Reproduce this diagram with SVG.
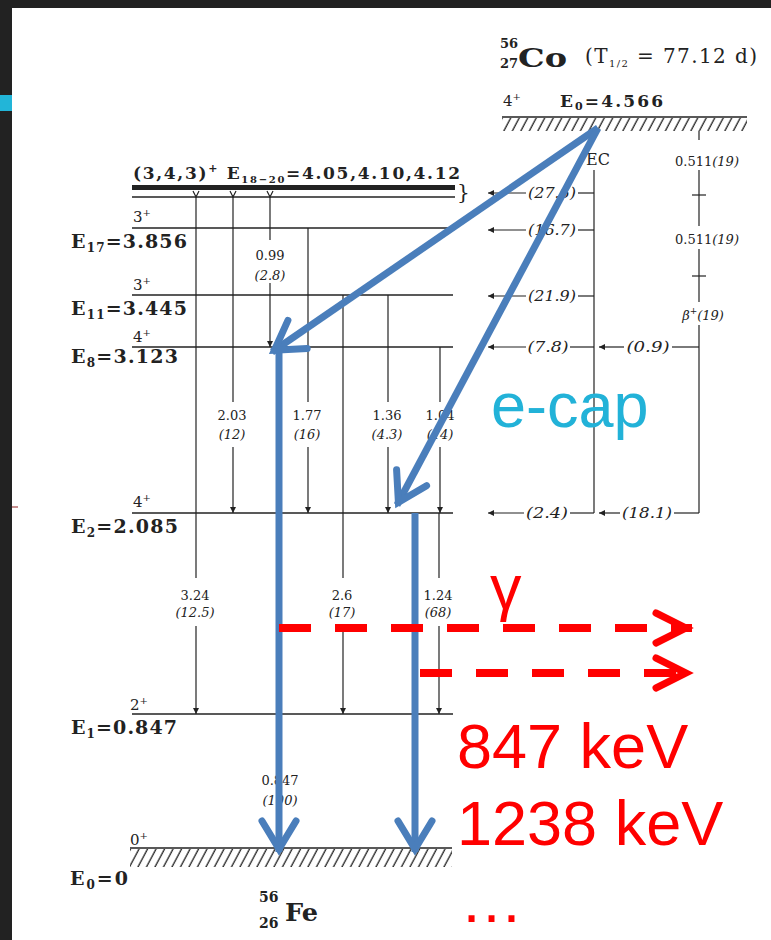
<svg xmlns="http://www.w3.org/2000/svg" width="771" height="940" viewBox="0 0 771 940">
<style>
.lv{stroke:#222;stroke-width:1.6;fill:none}
.tr{stroke:#222;stroke-width:1.2;fill:none}
.tra{stroke:#222;stroke-width:1.2;fill:none;marker-end:url(#ah)}
.lab{font-family:"DejaVu Serif","Liberation Serif",serif;font-weight:bold;fill:#222}
.spin{font-family:"DejaVu Serif","Liberation Serif",serif;font-size:15px;fill:#222}
.en{font-family:"DejaVu Serif","Liberation Serif",serif;font-size:13px;fill:#222;text-anchor:middle}
.it{font-family:"DejaVu Serif","Liberation Serif",serif;font-style:italic;font-size:13px;fill:#222;text-anchor:middle}
.fd{font-family:"DejaVu Serif","Liberation Serif",serif;font-style:italic;font-size:15px;fill:#222;text-anchor:middle}
.blue{stroke:#4a7ebb;stroke-width:7;fill:none;marker-end:url(#bh)}
.red{stroke:#ff0000;stroke-width:8;fill:none;stroke-dasharray:32 24;marker-end:url(#rh)}
.big{font-family:"Liberation Sans",Arial,sans-serif;font-size:63px}
</style>
<defs>
<marker id="ah" markerUnits="userSpaceOnUse" viewBox="0 0 8 8" refX="8" refY="4" markerWidth="7" markerHeight="6" orient="auto">
<path d="M0,0 L8,4 L0,8 z" fill="#222"/>
</marker>
<marker id="bh" markerUnits="userSpaceOnUse" viewBox="-34 -24 44 48" refX="0" refY="0" markerWidth="44" markerHeight="48" orient="auto" overflow="visible">
<path d="M-31,-17 L-3,0 L-31,17" fill="none" stroke="#4a7ebb" stroke-width="7" stroke-linecap="round" stroke-linejoin="miter"/>
</marker>
<marker id="rh" markerUnits="userSpaceOnUse" viewBox="-40 -22 50 44" refX="0" refY="0" markerWidth="50" markerHeight="44" orient="auto" overflow="visible">
<path d="M-36,-15 L-6,0 L-36,15" fill="none" stroke="#ff0000" stroke-width="7" stroke-dasharray="none" stroke-linecap="round" stroke-linejoin="miter"/>
</marker>
<pattern id="hatch" patternUnits="userSpaceOnUse" width="8.5" height="40" patternTransform="skewX(-28)">
<line x1="4" y1="0" x2="4" y2="40" stroke="#333" stroke-width="1.6"/>
</pattern>
</defs>

<rect x="0" y="0" width="771" height="940" fill="#ffffff"/>
<rect x="0" y="0" width="771" height="8" fill="#222222"/>
<rect x="0" y="0" width="12" height="940" fill="#222222"/>
<rect x="0" y="95" width="12" height="16" fill="#22b5d8"/>
<line x1="12" y1="507" x2="18" y2="507" stroke="#b06060" stroke-width="2" opacity="0.7"/>

<g id="co-title">
<text class="lab" x="500" y="48" font-size="13">56</text>
<text class="lab" x="500" y="68" font-size="13">27</text>
<text class="lab" x="518" y="67" font-size="26" textLength="49" lengthAdjust="spacingAndGlyphs">Co</text>
<text x="585" y="63" font-family="DejaVu Serif, Liberation Serif, serif" font-size="20" fill="#222" textLength="172">(T<tspan font-size="10" dy="4">1/2</tspan><tspan dy="-4"> = 77.12 d)</tspan></text>
</g>

<g id="level-co">
<line class="lv" x1="502" y1="117" x2="747" y2="117"/>
<rect x="502" y="118" width="245" height="13" fill="url(#hatch)"/>
<text class="spin" x="503" y="106">4<tspan font-size="10" dy="-6">+</tspan></text>
<text class="lab" x="560" y="107" font-size="17" textLength="103">E<tspan font-size="11" dy="3">0</tspan><tspan dy="-3">=4.566</tspan></text>
</g>

<g id="level-18-20">
<rect x="132" y="185" width="323" height="5" fill="#222"/>
<line class="lv" x1="132" y1="197" x2="455" y2="197"/>
<text class="lab" x="133" y="179" font-size="17" textLength="327">(3,4,3)<tspan font-size="11" dy="-7">+</tspan><tspan dy="7"> E</tspan><tspan font-size="10" dy="4">18−20</tspan><tspan dy="-4">=4.05,4.10,4.12</tspan></text>
<text x="457" y="199" font-family="DejaVu Serif, serif" font-size="20" fill="#222">}</text>
<path d="M193,191 L196,197 L199,191 M230,191 L233,197 L236,191 M267,191 L270,197 L273,191" stroke="#222" stroke-width="1.2" fill="none"/>
</g>

<g id="level-e17">
<line class="lv" x1="132" y1="228" x2="453" y2="228"/>
<text class="spin" x="133" y="222">3<tspan font-size="10" dy="-6">+</tspan></text>
<text class="lab" x="71" y="248" font-size="19" textLength="116">E<tspan font-size="12" dy="4">17</tspan><tspan dy="-4">=3.856</tspan></text>
</g>

<g id="level-e11">
<line class="lv" x1="132" y1="295" x2="453" y2="295"/>
<text class="spin" x="133" y="290">3<tspan font-size="10" dy="-6">+</tspan></text>
<text class="lab" x="71" y="315" font-size="19" textLength="116">E<tspan font-size="12" dy="4">11</tspan><tspan dy="-4">=3.445</tspan></text>
</g>

<g id="level-e8">
<line class="lv" x1="132" y1="347" x2="453" y2="347"/>
<text class="spin" x="133" y="342">4<tspan font-size="10" dy="-6">+</tspan></text>
<text class="lab" x="71" y="363" font-size="19" textLength="107">E<tspan font-size="12" dy="4">8</tspan><tspan dy="-4">=3.123</tspan></text>
</g>

<g id="level-e2">
<line class="lv" x1="132" y1="513" x2="453" y2="513"/>
<text class="spin" x="133" y="507">4<tspan font-size="10" dy="-6">+</tspan></text>
<text class="lab" x="71" y="533" font-size="19" textLength="107">E<tspan font-size="12" dy="4">2</tspan><tspan dy="-4">=2.085</tspan></text>
</g>

<g id="level-e1">
<line class="lv" x1="132" y1="714" x2="453" y2="714"/>
<text class="spin" x="130" y="710">2<tspan font-size="10" dy="-6">+</tspan></text>
<text class="lab" x="71" y="734" font-size="19" textLength="106">E<tspan font-size="12" dy="4">1</tspan><tspan dy="-4">=0.847</tspan></text>
</g>

<g id="level-e0">
<line class="lv" x1="130" y1="848" x2="452" y2="848"/>
<rect x="130" y="849" width="322" height="18" fill="url(#hatch)"/>
<text class="spin" x="130" y="845">0<tspan font-size="10" dy="-6">+</tspan></text>
<text class="lab" x="70" y="885" font-size="19" textLength="58">E<tspan font-size="12" dy="4">0</tspan><tspan dy="-4">=0</tspan></text>
</g>

<g id="fe-title">
<text class="lab" x="259" y="902" font-size="14">56</text>
<text class="lab" x="259" y="928" font-size="14">26</text>
<text class="lab" x="285" y="921" font-size="24" textLength="33" lengthAdjust="spacingAndGlyphs">Fe</text>
</g>

<g id="ec-branch">
<text x="598" y="165" font-family="DejaVu Serif, serif" font-size="16" fill="#222" text-anchor="middle">EC</text>
<line class="tr" x1="594" y1="170" x2="594" y2="513"/>
</g>

<g id="beta-branch">
<line class="tr" x1="699" y1="131" x2="699" y2="140"/>
<text class="en" x="707" y="166" font-size="14">0.511<tspan font-style="italic">(19)</tspan></text>
<line class="tr" x1="699" y1="170" x2="699" y2="226"/>
<line class="tr" x1="692" y1="195" x2="706" y2="195"/>
<text class="en" x="707" y="244" font-size="14">0.511<tspan font-style="italic">(19)</tspan></text>
<line class="tr" x1="699" y1="249" x2="699" y2="302"/>
<line class="tr" x1="692" y1="276" x2="706" y2="276"/>
<text class="it" x="703" y="320" font-size="14">β<tspan font-size="9" dy="-6">+</tspan><tspan dy="6">(19)</tspan></text>
<line class="tr" x1="699" y1="325" x2="699" y2="513"/>
</g>

<g id="connectors">
<path class="tr" d="M196,197 L196,578"/><path class="tra" d="M196,626 L196,714"/>
<text class="en" x="195" y="600">3.24</text><text class="it" x="195" y="617">(12.5)</text>
<path class="tr" d="M233,197 L233,402"/><path class="tra" d="M233,447 L233,513"/>
<text class="en" x="232" y="420">2.03</text><text class="it" x="232" y="439">(12)</text>
<path class="tr" d="M270,197 L270,240"/><path class="tra" d="M270,283 L270,347"/>
<text class="en" x="270" y="260">0.99</text><text class="it" x="270" y="280">(2.8)</text>
<path class="tr" d="M308,228 L308,402"/><path class="tra" d="M308,447 L308,513"/>
<text class="en" x="307" y="420">1.77</text><text class="it" x="307" y="439">(16)</text>
<path class="tr" d="M343,295 L343,578"/><path class="tra" d="M343,626 L343,714"/>
<text class="en" x="342" y="600">2.6</text><text class="it" x="342" y="617">(17)</text>
<path class="tr" d="M388,295 L388,402"/><path class="tra" d="M388,447 L388,513"/>
<text class="en" x="387" y="420">1.36</text><text class="it" x="387" y="439">(4.3)</text>
<path class="tr" d="M440,347 L440,402"/><path class="tra" d="M440,447 L440,513"/>
<text class="en" x="440" y="420">1.04</text><text class="it" x="440" y="439">(14)</text>
<path class="tr" d="M439,513 L439,578"/><path class="tra" d="M439,626 L439,714"/>
<text class="en" x="438" y="600">1.24</text><text class="it" x="438" y="617">(68)</text>
<path class="tr" d="M280,714 L280,765"/><path class="tra" d="M280,810 L280,848"/>
<text class="en" x="280" y="785">0.847</text><text class="it" x="280" y="805">(100)</text>

<path class="tr" d="M578,193 L594,193"/><path class="tra" d="M526,193 L488,193"/>
<text class="fd" x="552" y="198" textLength="48" lengthAdjust="spacingAndGlyphs">(27.6)</text>
<path class="tr" d="M578,230 L594,230"/><path class="tra" d="M526,230 L488,230"/>
<text class="fd" x="552" y="235" textLength="48" lengthAdjust="spacingAndGlyphs">(16.7)</text>
<path class="tr" d="M578,296 L594,296"/><path class="tra" d="M526,296 L488,296"/>
<text class="fd" x="552" y="301" textLength="48" lengthAdjust="spacingAndGlyphs">(21.9)</text>
<path class="tr" d="M570,347 L594,347"/><path class="tra" d="M526,347 L488,347"/>
<text class="fd" x="548" y="352" textLength="41" lengthAdjust="spacingAndGlyphs">(7.8)</text>
<path class="tr" d="M672,347 L699,347"/><path class="tra" d="M624,347 L599,347"/>
<text class="fd" x="648" y="352" textLength="43" lengthAdjust="spacingAndGlyphs">(0.9)</text>
<path class="tr" d="M570,513 L594,513"/><path class="tra" d="M524,513 L488,513"/>
<text class="fd" x="547" y="518" textLength="42" lengthAdjust="spacingAndGlyphs">(2.4)</text>
<path class="tr" d="M674,513 L699,513"/><path class="tra" d="M620,513 L599,513"/>
<text class="fd" x="647" y="518" textLength="50" lengthAdjust="spacingAndGlyphs">(18.1)</text>

<path class="blue" d="M598,128 L272,352"/>
<path class="blue" d="M598,128 L397,505"/>
<path class="blue" d="M279,347 L279,852"/>
<path class="blue" d="M415,513 L415,852"/>
<path class="red" d="M279,628 L692,628"/>
<path class="red" d="M420,673 L692,673"/>
</g>

<g id="annotations">
<text class="big" x="491" y="427" fill="#22b2d8">e-cap</text>
<text class="big" x="490" y="609" fill="#ff0000">γ</text>
<text class="big" x="457" y="768" fill="#ff0000">847 keV</text>
<text class="big" x="457" y="845" fill="#ff0000">1238 keV</text>
<text class="big" x="460" y="922" fill="#ff0000">…</text>
</g>
</svg>
